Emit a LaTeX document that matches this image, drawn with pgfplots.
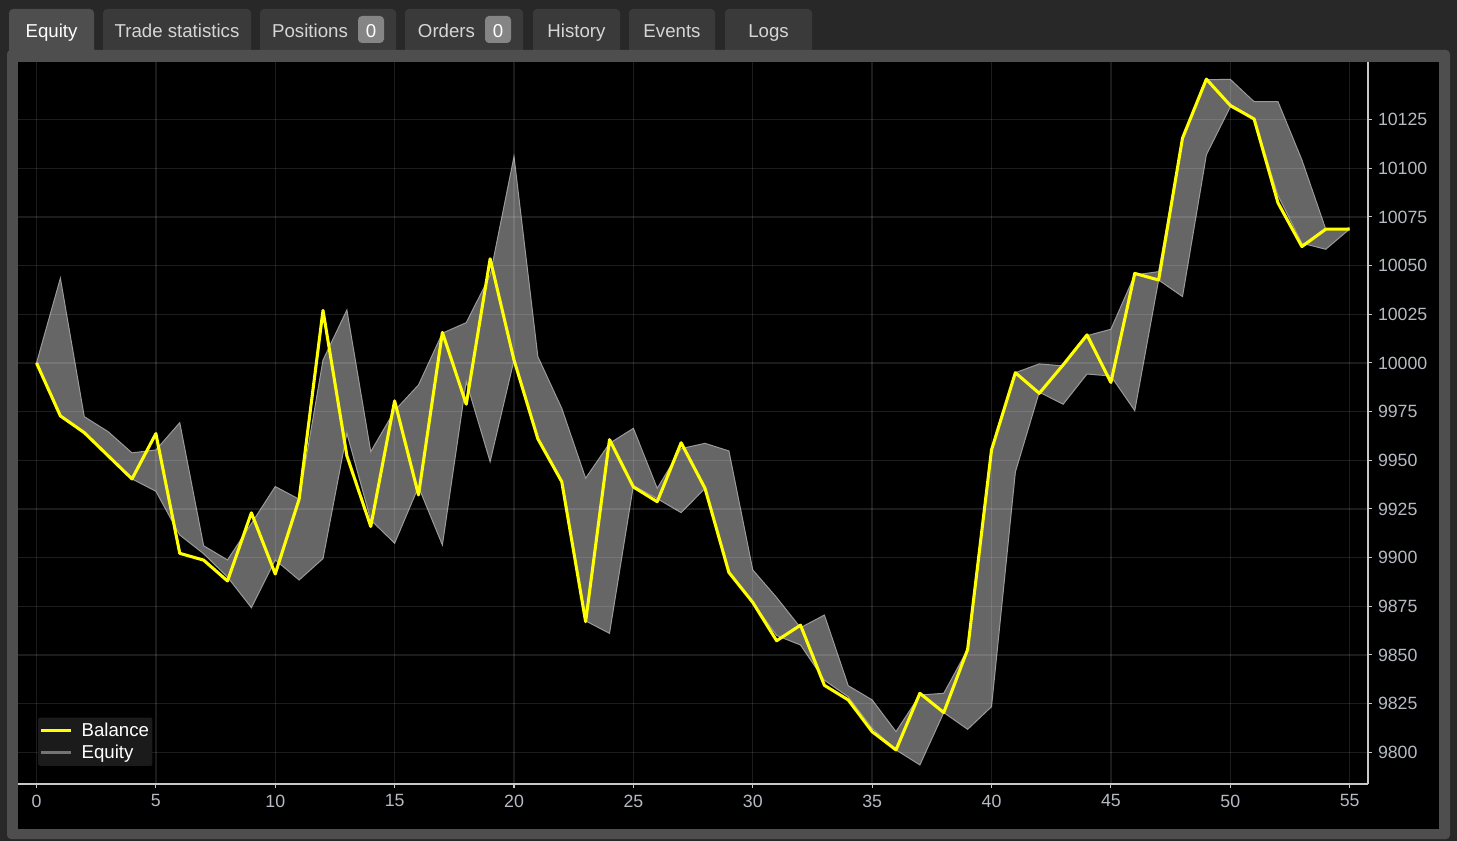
\documentclass[border=0pt]{standalone}
\usepackage{fontspec}
\setmainfont{Liberation Sans}
\usepackage{pgfplots}
\pgfplotsset{compat=1.18}
\usepackage{pgfplotstable}
\definecolor{bgc}{HTML}{282828}
\definecolor{framec}{HTML}{4E4E4E}
\definecolor{tabc}{HTML}{3A3A3A}
\definecolor{badgec}{HTML}{858585}
\definecolor{tabtext}{HTML}{D6D6D6}
\definecolor{axisc}{HTML}{C8C8C8}
\definecolor{tickc}{HTML}{B6BAC2}
\definecolor{bandc}{HTML}{666666}
\definecolor{edgec}{HTML}{9A9A9A}
\definecolor{yel}{HTML}{FFFF00}
\definecolor{legc}{HTML}{1B1B1B}
\definecolor{legeq}{HTML}{747474}

% x, balance, equity high (U), equity low (L)
\pgfplotstableread{
x B U L
0 10000 10000 10000
1 9972.8 10043.5 9972.8
2 9964.2 9972.4 9964.2
3 9952.3 9964.7 9952.3
4 9940.4 9953.8 9940.4
5 9963.7 9955.3 9934.1
6 9902.2 9969.3 9911.6
7 9898.7 9906.1 9902
8 9888 9898.8 9890
9 9923 9917.5 9874.3
10 9891.6 9936.5 9898.8
11 9930 9930 9888.5
12 10027 10001.5 9899.5
13 9952.3 10027.2 9963.9
14 9916 9954.4 9919.3
15 9980.5 9975.5 9907.4
16 9932.2 9988.7 9936.4
17 10015.7 10015.3 9906.5
18 9978.8 10020.7 9990.4
19 10053.5 10045 9949.3
20 10001.5 10106 10001.5
21 9961 10003.2 9961
22 9939 9976.7 9939
23 9867.1 9940.8 9867.5
24 9960.6 9958.7 9861.1
25 9936.3 9966.4 9937
26 9928.7 9935.6 9930.3
27 9959 9956 9923.1
28 9935.6 9958.7 9935.6
29 9892.4 9954.8 9892.4
30 9877 9893.7 9877
31 9857.3 9879.5 9860
32 9865.3 9864 9855.1
33 9834.4 9870.5 9837
34 9826.9 9834.2 9828.5
35 9810.6 9826.9 9812.3
36 9801.2 9810.6 9801.2
37 9830.3 9829.4 9793.5
38 9820.4 9830.3 9820.4
39 9852.8 9852.8 9811.8
40 9955.3 9955.3 9823.4
41 9995 9995 9944
42 9984.4 9999.5 9985
43 9999 9998.5 9978.8
44 10014.4 10014 9994.3
45 9990 10017.3 9993.3
46 10046 10045.2 9975.5
47 10042.6 10046.9 10042.6
48 10115.5 10115.5 10034.1
49 10145.8 10145.5 10106.9
50 10132.3 10145.7 10131.5
51 10125.3 10134.2 10125.3
52 10082.2 10134.2 10086
53 10059.8 10104.3 10061.5
54 10068.7 10068.7 10058.4
55 10068.8 10068.8 10068.8
}\eqdata

% outline of the equity band: high values forward, low values backward
\pgfplotstableread{
x y
0 10000
1 10043.5
2 9972.4
3 9964.7
4 9953.8
5 9955.3
6 9969.3
7 9906.1
8 9898.8
9 9917.5
10 9936.5
11 9930
12 10001.5
13 10027.2
14 9954.4
15 9975.5
16 9988.7
17 10015.3
18 10020.7
19 10045
20 10106
21 10003.2
22 9976.7
23 9940.8
24 9958.7
25 9966.4
26 9935.6
27 9956
28 9958.7
29 9954.8
30 9893.7
31 9879.5
32 9864
33 9870.5
34 9834.2
35 9826.9
36 9810.6
37 9829.4
38 9830.3
39 9852.8
40 9955.3
41 9995
42 9999.5
43 9998.5
44 10014
45 10017.3
46 10045.2
47 10046.9
48 10115.5
49 10145.5
50 10145.7
51 10134.2
52 10134.2
53 10104.3
54 10068.7
55 10068.8
55 10068.8
54 10058.4
53 10061.5
52 10086
51 10125.3
50 10131.5
49 10106.9
48 10034.1
47 10042.6
46 9975.5
45 9993.3
44 9994.3
43 9978.8
42 9985
41 9944
40 9823.4
39 9811.8
38 9820.4
37 9793.5
36 9801.2
35 9812.3
34 9828.5
33 9837
32 9855.1
31 9860
30 9877
29 9892.4
28 9935.6
27 9923.1
26 9930.3
25 9937
24 9861.1
23 9867.5
22 9939
21 9961
20 10001.5
19 9949.3
18 9990.4
17 9906.5
16 9936.4
15 9907.4
14 9919.3
13 9963.9
12 9899.5
11 9888.5
10 9898.8
9 9874.3
8 9890
7 9902
6 9911.6
5 9934.1
4 9940.4
3 9952.3
2 9964.2
1 9972.8
0 10000
}\banddata

\begin{document}
\begin{tikzpicture}
\begin{scope}[x=0.75pt,y=-0.75pt]
\fill[bgc] (0,0) rectangle (1457,841);
\path[use as bounding box] (0,0) rectangle (1457,841);
% tabs
\fill[framec, rounded corners=3] (9,9) rectangle (94,60);
\foreach \a/\b in {103/251,260/396,405/523,533/620,629/715,725/812}{
  \fill[tabc, rounded corners=3] (\a,9) rectangle (\b,60);
}
% frame
\fill[framec, rounded corners=3] (7,50) rectangle (1450,839);
\fill[black] (18,62) rectangle (1439,829);
% tab labels
\begin{scope}[every node/.style={font=\fontsize{14}{16}\selectfont, inner sep=0pt, anchor=base}]
\node[text=white] at (51.5,37.5) {Equity};
\node[text=tabtext] at (177,37.5) {Trade statistics};
\node[text=tabtext] at (310,37.5) {Positions};
\fill[badgec, rounded corners=3] (358,16) rectangle (384,43);
\node[text=white] at (371,37.5) {0};
\node[text=tabtext] at (446.5,37.5) {Orders};
\fill[badgec, rounded corners=3] (485,16) rectangle (511,43);
\node[text=white] at (498,37.5) {0};
\node[text=tabtext] at (576.5,37.5) {History};
\node[text=tabtext] at (672,37.5) {Events};
\node[text=tabtext] at (768.5,37.5) {Logs};
\end{scope}
\end{scope}

\begin{axis}[
  at={(13.5pt,-588pt)}, anchor=south west,
  scale only axis, width=1012.5pt, height=541.5pt,
  xmin=-0.775, xmax=55.768, ymin=9783.7, ymax=10154.6,
  axis x line*=bottom, axis y line*=right,
  axis line style={draw=axisc, line width=1.5pt},
  xtick={0,5,...,55}, ytick={9800,9825,...,10125},
  tick align=outside, major tick length=3pt,
  tick style={draw=axisc, line width=0.8pt},
  scaled y ticks=false,
  /pgf/number format/assume math mode=true,
  /pgf/number format/fixed,
  /pgf/number format/precision=0,
  /pgf/number format/1000 sep={},
  ticklabel style={text=tickc, font=\fontsize{13.3}{15}\selectfont},
  xticklabel style={yshift=-1.5pt},
  yticklabel style={xshift=1pt},
  grid=major,
  major grid style={draw=white, opacity=0.11, line width=1.1pt},
  axis on top,
  legend style={at={(0.0148,0.0249)}, anchor=south west, fill=legc, draw=none,
    text=white, font=\fontsize{14}{16}\selectfont, inner xsep=0.5pt, inner ysep=2pt,
    row sep=0.8pt, rounded corners=1pt,
    /tikz/every odd column/.append style={column sep=4.5pt}},
  legend cell align=left,
  legend image code/.code={\draw[#1] (0pt,0pt) -- (23pt,0pt);},
]
\addplot[fill=bandc, draw=none, forget plot] table[x=x,y=y]{\banddata} -- cycle;
\addplot[draw=edgec, line width=0.75pt, forget plot] table[x=x,y=U]{\eqdata};
\addplot[draw=edgec, line width=0.75pt, forget plot] table[x=x,y=L]{\eqdata};
\addplot[draw=yel, line width=2.3pt, line join=round] table[x=x,y=B]{\eqdata};
\addlegendentry{Balance}
\addlegendimage{draw=legeq, line width=2.5pt}
\addlegendentry{Equity}
\end{axis}
\end{tikzpicture}
\end{document}
